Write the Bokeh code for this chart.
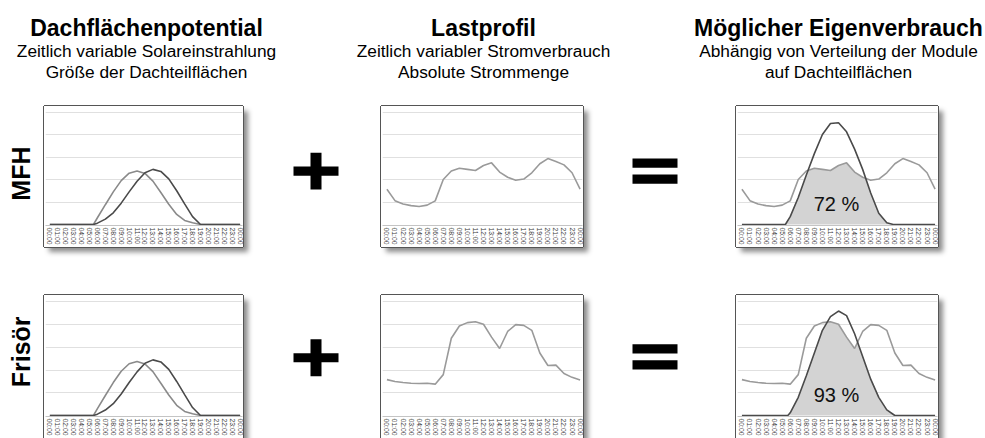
import numpy as np
from bokeh.plotting import figure
from bokeh.layouts import row, column
from bokeh.models import Spacer, FixedTicker
from bokeh.core.properties import value
from bokeh.embed import file_html
from bokeh.resources import INLINE

# ---------------- data ----------------
uhrzeiten = ["00:00", "01:00", "02:00", "03:00", "04:00", "05:00", "06:00", "07:00",
             "08:00", "09:00", "10:00", "11:00", "12:00", "13:00", "14:00", "15:00",
             "16:00", "17:00", "18:00", "19:00", "20:00", "21:00", "22:00", "23:00", "00:00"]
stunden = list(range(25))

# Dachflaechenpotential: two roof faces
solar_stunden = [0, 5.5, 6, 7, 8, 9, 10, 11, 12, 13, 14, 15, 16, 17, 18, 19, 24]
solar_ost = [0, 0, 0.3, 0.88, 1.45, 1.95, 2.28, 2.38, 2.27, 1.93, 1.42, 0.9, 0.45, 0.18, 0.08, 0, 0]
solar_sued = [0, 0, 0.06, 0.24, 0.52, 0.95, 1.45, 1.92, 2.3, 2.45, 2.36, 2.03, 1.5, 0.92, 0.35, 0, 0]

# Lastprofile (hourly)
last_mfh = [1.57, 1.06, 0.91, 0.84, 0.80, 0.86, 1.05, 2.0, 2.38, 2.5, 2.45, 2.4, 2.62,
            2.74, 2.33, 2.1, 1.97, 2.02, 2.3, 2.7, 2.93, 2.8, 2.65, 2.3, 1.57]
last_frisoer = [1.58, 1.5, 1.45, 1.42, 1.41, 1.42, 1.38, 1.8, 3.4, 3.94, 4.09, 4.13, 4.02,
                3.45, 2.95, 3.7, 4.0, 3.97, 3.75, 2.75, 2.2, 2.22, 1.85, 1.68, 1.56]

# PV-Erzeugung bei gewaehlter Modulverteilung
pv_mfh_stunden = [0, 5.4, 6, 7, 8, 9, 10, 11, 12, 13, 14, 15, 16, 17, 18, 18.8, 24]
pv_mfh = [0, 0, 0.35, 1.2, 2.2, 3.15, 4.0, 4.49, 4.52, 4.12, 3.35, 2.45, 1.4, 0.5, 0.08, 0, 0]
pv_frisoer_stunden = [0, 5.7, 6, 7, 8, 9, 10, 11, 12, 13, 14, 15, 16, 17, 18, 19, 24]
pv_frisoer = [0, 0, 0.12, 0.8, 1.75, 2.75, 3.75, 4.35, 4.6, 4.4, 3.6, 2.6, 1.6, 0.8, 0.25, 0, 0]

eigenverbrauch_anteil = ["72 %", "93 %"]
zeilen = ["MFH", "Frisör"]
spalten_titel = ["Dachflächenpotential", "Lastprofil", "Möglicher Eigenverbrauch"]
spalten_untertitel = [
    ["Zeitlich variable Solareinstrahlung", "Größe der Dachteilflächen"],
    ["Zeitlich variabler Stromverbrauch", "Absolute Strommenge"],
    ["Abhängig von Verteilung der Module", "auf Dachteilflächen"],
]

# ---------------- styling ----------------
FONT = "Liberation Sans"
X_RANGE = (-0.55, 24.3)
LIGHT = "#9a9a9a"
MID = "#8a8a8a"
DARK = "#4a4a4a"
FILL = "#d3d3d3"


def blank(width, height, xr, yr):
    p = figure(width=width, height=height, x_range=xr, y_range=yr,
               toolbar_location=None, output_backend="svg",
               x_axis_location=None, y_axis_location=None, min_border=0)
    p.grid.visible = False
    p.outline_line_color = None
    p.background_fill_color = None
    p.border_fill_color = None
    return p


def panel(width, height, second_row=False):
    y_end = 5.24 if second_row else 5.2
    p = figure(width=width, height=height, x_range=X_RANGE, y_range=(-0.044, y_end),
               toolbar_location=None, output_backend="svg",
               x_axis_location="below", y_axis_location=None,
               min_border_left=1, min_border_right=1, min_border_top=1,
               min_border_bottom=22 if second_row else 21)
    p.outline_line_color = None
    p.background_fill_color = "white"
    p.border_fill_color = "white"
    p.xgrid.visible = False
    p.ygrid.ticker = FixedTicker(ticks=[1, 2, 3, 4, 5])
    p.ygrid.grid_line_color = "#e0e0e0"
    p.ygrid.grid_line_width = 1
    ax = p.xaxis[0]
    ax.ticker = FixedTicker(ticks=stunden)
    ax.major_label_overrides = {h: lab for h, lab in zip(stunden, uhrzeiten)}
    ax.major_label_orientation = "vertical"
    ax.major_label_text_font = FONT
    ax.major_label_text_font_size = "6.8px"
    ax.major_label_text_color = "#3a3a3a"
    ax.major_label_standoff = 2
    ax.major_tick_in = 0
    ax.major_tick_out = 0
    ax.minor_tick_line_color = None
    ax.axis_line_color = "#c4c4c4"
    shadow = "0 -1px 0 0 #555555, -1px 0 0 0 #555555, 1px 0 0 0 #555555"
    if not second_row:
        shadow += ", 0 1px 0 0 #555555"
    shadow += ", 5px 5px 5px 0 rgba(0,0,0,0.45)"
    p.styles = {"box-shadow": shadow}
    return p


def solar_panel(width, height, second_row):
    p = panel(width, height, second_row)
    p.line(solar_stunden, solar_ost, line_color=MID, line_width=1.6)
    p.line(solar_stunden, solar_sued, line_color=DARK, line_width=1.6)
    return p


def load_panel(width, height, load, second_row):
    p = panel(width, height, second_row)
    p.line(stunden, load, line_color=LIGHT, line_width=1.6)
    return p


def self_panel(width, height, load, pv_x, pv, label, second_row):
    p = panel(width, height, second_row)
    xs = np.linspace(0, 24, 1201)
    own = np.minimum(np.interp(xs, stunden, load), np.interp(xs, pv_x, pv))
    p.varea(x=xs, y1=np.zeros_like(xs), y2=own, fill_color=FILL)
    p.line(stunden, load, line_color=LIGHT, line_width=1.6)
    p.line(pv_x, pv, line_color=DARK, line_width=1.6)
    p.text(x=[11.75], y=[0.9], text=[label], text_font=value(FONT),
           text_font_size="20px", text_align="center", text_baseline="middle",
           text_color="#111111")
    return p


# ---------------- header ----------------
centers = [146, 483, 838]
hdr = blank(985, 106, (0, 985), (106, 0))
hdr.text(x=centers, y=[27.3] * 3, text=spalten_titel, text_font=value(FONT),
         text_font_style="bold", text_font_size="23px", text_align="center",
         text_baseline="alphabetic", text_color="black")
hdr.text(x=centers, y=[50] * 3, text=[s[0] for s in spalten_untertitel],
         text_font=value(FONT), text_font_size="17.3px", text_align="center",
         text_baseline="alphabetic", text_color="black")
hdr.text(x=centers, y=[71.5] * 3, text=[s[1] for s in spalten_untertitel],
         text_font=value(FONT), text_font_size="17.3px", text_align="center",
         text_baseline="alphabetic", text_color="black")


def row_label(text, height, top, center_y):
    p = blank(44, height, (0, 44), (top + height, top))
    p.text(x=[20], y=[center_y], text=[text], angle=np.pi / 2, text_font=value(FONT),
           text_font_style="bold", text_font_size="25px", text_align="center",
           text_baseline="middle", text_color="black")
    return p


def plus_sign(height, top, cy):
    p = blank(138, height, (243, 381), (top + height, top))
    p.rect(x=[315.5, 315.5], y=[cy, cy], width=[45, 11], height=[11, 44],
           fill_color="black", line_color=None)
    return p


def equals_sign(height, top, cy):
    p = blank(153, height, (583, 736), (top + height, top))
    p.rect(x=[654.5, 654.5], y=[cy - 9.5, cy + 9.5], width=[45, 45], height=[11, 11],
           fill_color="black", line_color=None)
    return p


# ---------------- rows ----------------
H1, T1 = 141, 106
H2, T2 = 143, 295

row1 = row(
    row_label(zeilen[0], H1, T1, 185),
    solar_panel(199, H1, False),
    plus_sign(H1, T1, 182),
    load_panel(202, H1, last_mfh, False),
    equals_sign(H1, T1, 182),
    self_panel(202, H1, last_mfh, pv_mfh_stunden, pv_mfh, eigenverbrauch_anteil[0], False),
)
row2 = row(
    row_label(zeilen[1], H2, T2, 361),
    solar_panel(199, H2, True),
    plus_sign(H2, T2, 368),
    load_panel(202, H2, last_frisoer, True),
    equals_sign(H2, T2, 367),
    self_panel(202, H2, last_frisoer, pv_frisoer_stunden, pv_frisoer, eigenverbrauch_anteil[1], True),
)

layout = column(hdr, row1, Spacer(width=10, height=48), row2)

open("out.html", "w").write(file_html(layout, INLINE))
